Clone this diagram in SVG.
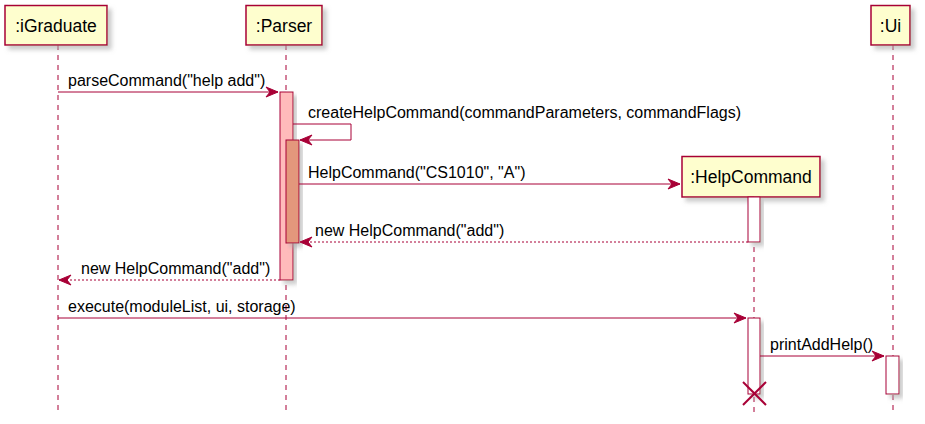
<svg xmlns="http://www.w3.org/2000/svg" width="925" height="424" viewBox="0 0 925 424">
<style>
.box{fill:#FEFECE;stroke:#A80036;stroke-width:1.5;filter:url(#sh)}
.act{stroke:#A80036;stroke-width:1;filter:url(#sh)}
.life{stroke:#A80036;stroke-width:1;stroke-dasharray:5,5;fill:none}
.msg{stroke:#A80036;stroke-width:1;fill:none}
.ret{stroke:#A80036;stroke-width:1;fill:none;stroke-dasharray:2,2}
.head{fill:#A80036;stroke:#A80036;stroke-width:1}
.pt{font-family:"Liberation Sans",Arial,sans-serif;font-size:17.5px;fill:#000;text-anchor:middle}
.mt{font-family:"Liberation Sans",Arial,sans-serif;font-size:16px;fill:#000}
</style>
<defs>
<filter id="sh" x="-20%" y="-20%" width="150%" height="150%">
<feGaussianBlur in="SourceAlpha" stdDeviation="2"/>
<feOffset dx="4" dy="4" result="b"/>
<feColorMatrix in="b" type="matrix" values="0 0 0 0 0.4  0 0 0 0 0.4  0 0 0 0 0.4  0 0 0 0.6 0"/>
<feMerge><feMergeNode/><feMergeNode in="SourceGraphic"/></feMerge>
</filter>
</defs>
<g id="lifelines">
<line class="life" x1="58" y1="45" x2="58" y2="415"/>
<line class="life" x1="286" y1="45" x2="286" y2="415"/>
<line class="life" x1="754" y1="197" x2="754" y2="415"/>
<line class="life" x1="893" y1="45" x2="893" y2="415"/>
</g>
<g id="iGraduate"><rect class="box" x="5" y="5.5" width="102" height="39.5"/><text class="pt" x="56" y="32">:iGraduate</text></g>
<g id="Parser"><rect class="box" x="246" y="5.5" width="76" height="39.5"/><text class="pt" x="284" y="32">:Parser</text></g>
<g id="HelpCommand"><rect class="box" x="682" y="156.5" width="138" height="40.5"/><text class="pt" x="751" y="183">:HelpCommand</text></g>
<g id="Ui"><rect class="box" x="871" y="5.5" width="39" height="39.5"/><text class="pt" x="890.5" y="32">:Ui</text></g>
<g id="activations">
<rect class="act" x="280" y="92" width="13" height="188" fill="#FFBBBB"/>
<rect class="act" x="286" y="140" width="13" height="103" fill="#E3977B"/>
<rect class="act" x="748" y="197" width="12" height="45" fill="#FFFFFF"/>
<rect class="act" x="748" y="318" width="12" height="76" fill="#FFFFFF"/>
<rect class="act" x="886" y="356" width="13" height="38" fill="#FFFFFF"/>
</g>
<g id="connectors">
<line class="msg" x1="58" y1="92" x2="278" y2="92"/>
<polygon class="head" points="266,87 278,92 266,97 270,92"/>
<text class="mt" x="68" y="86">parseCommand("help add")</text>

<polyline class="msg" points="293,124 351,124 351,140 300,140"/>
<polygon class="head" points="312,135 300,140 312,145 308,140"/>
<text class="mt" x="308" y="118">createHelpCommand(commandParameters, commandFlags)</text>

<line class="msg" x1="299" y1="184" x2="680" y2="184"/>
<polygon class="head" points="668,179 680,184 668,189 672,184"/>
<text class="mt" x="308" y="178">HelpCommand("CS1010", "A")</text>

<line class="ret" x1="748" y1="242" x2="300" y2="242"/>
<polygon class="head" points="312,237 300,242 312,247 308,242"/>
<text class="mt" x="315" y="236">new HelpCommand("add")</text>

<line class="ret" x1="280" y1="280" x2="59" y2="280"/>
<polygon class="head" points="71,275 59,280 71,285 67,280"/>
<text class="mt" x="81" y="274">new HelpCommand("add")</text>

<line class="msg" x1="58" y1="318" x2="746" y2="318"/>
<polygon class="head" points="734,313 746,318 734,323 738,318"/>
<text class="mt" x="68" y="312">execute(moduleList, ui, storage)</text>

<line class="msg" x1="760" y1="356" x2="884" y2="356"/>
<polygon class="head" points="872,351 884,356 872,361 876,356"/>
<text class="mt" x="770" y="350">printAddHelp()</text>

<g id="destroy" stroke="#A80036" stroke-width="2">
<line x1="743" y1="382" x2="766" y2="405"/>
<line x1="766" y1="382" x2="743" y2="405"/>
</g>
</g>
</svg>
